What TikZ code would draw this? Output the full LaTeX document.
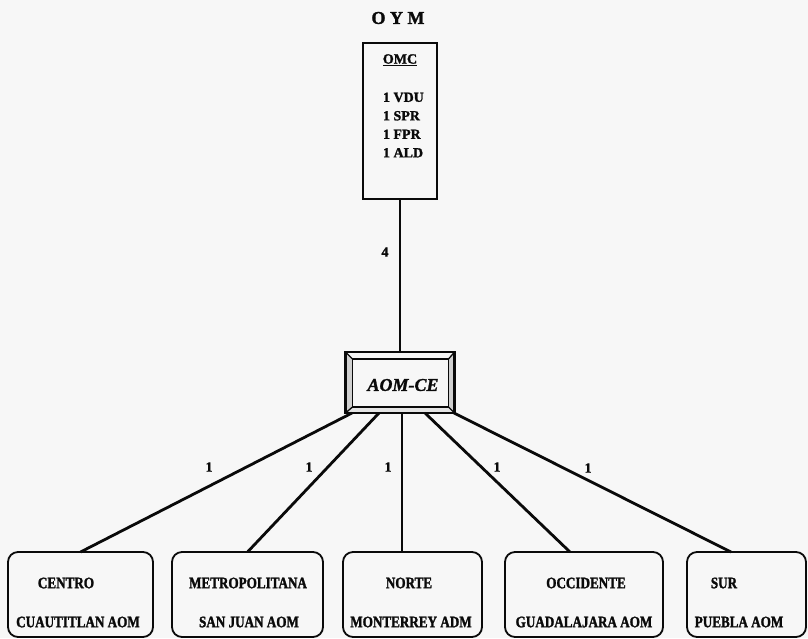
\documentclass[tikz,border=0pt]{standalone}
\usepackage{fontspec}
\setmainfont{Liberation Serif}[BoldFeatures={FakeBold=1.6},BoldItalicFeatures={FakeBold=1.4}]
\newfontfamily\condfont{Liberation Serif}[FakeStretch=0.82,BoldFeatures={FakeBold=1.6}]
\usetikzlibrary{calc}
\definecolor{paper}{RGB}{247,247,247}
\definecolor{ink}{RGB}{10,10,10}
\definecolor{bevel}{RGB}{120,120,120}
\begin{document}
\begin{tikzpicture}[x=1pt,y=-1pt,
  every node/.style={inner sep=0pt,outer sep=0pt,text=ink},
  unitbox/.style={draw=ink,line width=1.8pt,rounded corners=10pt,
    minimum width=#1,minimum height=85pt},
  unittext/.style={font=\condfont\bfseries\fontsize{16}{16}\selectfont},
  qty/.style={font=\bfseries\fontsize{14}{14}\selectfont},
  link/.style={draw=ink,line width=2.8pt},
]
\useasboundingbox[fill=paper] (0,0) rectangle (808,638);

% title
\node (oym) at (398,18) {\bfseries\fontsize{18}{18}\selectfont O Y M};

% top office
\node[draw=ink,line width=2pt,minimum width=74pt,minimum height=156pt] (omc) at (400,121) {};
\node[qty] (omct) at (400,60) {\underline{OMC}};
\node[qty,anchor=west,align=left] (omcl) at (383,125)
  {1 VDU\\[4.5pt]1 SPR\\[4.5pt]1 FPR\\[4.5pt]1 ALD};

% central office: bevelled frame
\node[minimum width=109pt,minimum height=61pt] (aom) at (400,382.5) {};
\coordinate (a1) at ($(aom.north west)+(7,7)$);
\coordinate (a2) at ($(aom.north east)+(-6,7)$);
\coordinate (a3) at ($(aom.south east)+(-6,-6)$);
\coordinate (a4) at ($(aom.south west)+(7,-6)$);
\fill[bevel!35] (aom.north west) -- (a1) -- (a4) -- (aom.south west) -- cycle;
\fill[bevel!35] (aom.north east) -- (a2) -- (a3) -- (aom.south east) -- cycle;
\fill[bevel!20] (aom.south west) -- (a4) -- (a3) -- (aom.south east) -- cycle;
\draw[ink,line width=2.6pt] (aom.north west) rectangle (aom.south east);
\draw[ink,line width=1.3pt] (a1) rectangle (a3);
\draw[ink,line width=1.3pt] (aom.north west) -- (a1) (aom.north east) -- (a2)
  (aom.south east) -- (a3) (aom.south west) -- (a4);
\node (aomt) at (403,385) {\bfseries\itshape\fontsize{18}{18}\selectfont AOM-CE};

\draw[link,line width=2.2pt] (omc.south) -- (aom.north);
\node[qty] (q0) at (385,252) {4};

% regional offices
\node[unitbox=145pt] (centro) at (80.5,594.5) {};
\node[unitbox=151pt] (metro) at (247.5,594.5) {};
\node[unitbox=139pt] (norte) at (412.5,594.5) {};
\node[unitbox=158pt] (occ) at (584,594.5) {};
\node[unitbox=119pt] (sur) at (746.5,594.5) {};

\node[unittext] (t1a) at (66,583) {CENTRO};
\node[unittext] (t1b) at (78,622) {CUAUTITLAN AOM};
\node[unittext] (t2a) at (248,583) {METROPOLITANA};
\node[unittext] (t2b) at (249,622) {SAN JUAN AOM};
\node[unittext] (t3a) at (409,583) {NORTE};
\node[unittext] (t3b) at (411,622) {MONTERREY ADM};
\node[unittext] (t4a) at (586,583) {OCCIDENTE};
\node[unittext] (t4b) at (584,622) {GUADALAJARA AOM};
\node[unittext] (t5a) at (724,583) {SUR};
\node[unittext] (t5b) at (739,622) {PUEBLA AOM};

% connectors from the central office
\coordinate (e3) at (402,552);
\coordinate (e4) at (570,552);
\coordinate (e5) at (731,552);
\draw[link] ($(aom.south)+(-48,0)$) -- (centro.north);
\draw[link] ($(aom.south)+(-21,0)$) -- (metro.north);
\draw[link,line width=1.8pt] ($(aom.south)+(2,0)$) -- (e3);
\draw[link] ($(aom.south)+(25,0)$) -- (e4);
\draw[link] ($(aom.south)+(54,0)$) -- (e5);

\node[qty] (q1) at (209,467) {1};
\node[qty] (q2) at (309,467) {1};
\node[qty] (q3) at (388,467) {1};
\node[qty] (q4) at (497,467) {1};
\node[qty] (q5) at (588,468) {1};
\end{tikzpicture}
\end{document}
